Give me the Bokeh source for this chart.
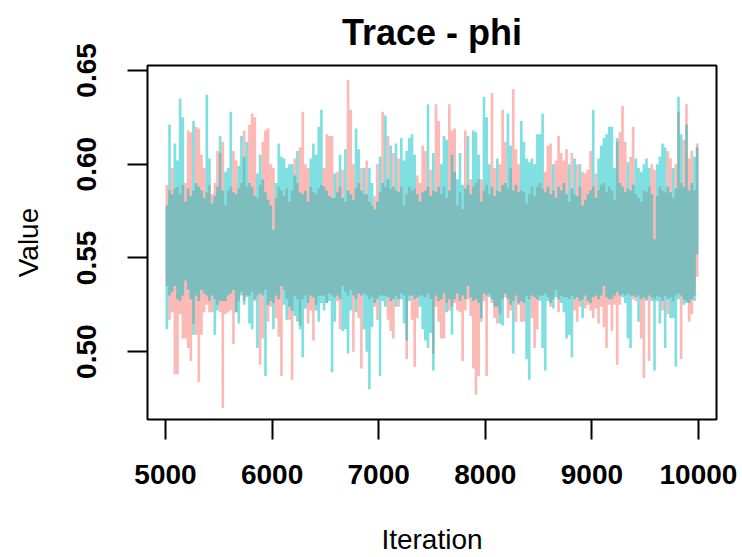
from bokeh.plotting import figure
from bokeh.models import Range1d, FixedTicker, NumeralTickFormatter
from bokeh.embed import file_html
from bokeh.resources import INLINE

# ---- data: per-bin (25 iterations) upper / lower extent of each chain's trace ----
start_iter = 5000
bin_width = 25

chain1_hi = [
    .589, .586, .598, .587, .588, .584, .589, .590, .618, .617, .586, .620, .619, .605, .598, .585,
    .589, .584, .590, .607, .606, .612, .578, .586, .588, .607, .602, .587, .590, .618, .588, .621,
    .627, .625, .582, .589, .612, .618, .619, .600, .598, .582, .588, .586, .583, .587, .580, .586,
    .603, .590, .609, .628, .600, .598, .588, .585, .584, .587, .589, .598, .616, .615, .615, .582,
    .596, .588,
    .597, .580, .645, .629, .600, .587, .590, .598, .584, .602, .580, .578, .583, .600, .585, .628,
    .588, .615, .587, .606, .586, .603, .588, .578, .584, .588, .586, .587, .594, .590, .610, .607,
    .588, .597,
    .586, .632, .623, .584, .588, .582, .632, .618, .619, .578, .585, .576, .618, .589, .592, .588,
    .590, .592, .592, .586, .589, .584, .638, .598, .586, .600, .629, .612, .587, .598, .640, .608,
    .600, .586,
    .585, .579, .584, .588, .583, .588, .590, .587, .596, .610, .611, .586, .602, .615, .606, .602,
    .608, .580, .606, .584, .600, .588, .596, .595, .597, .607, .588, .595, .586, .589, .590, .585,
    .588,
    .586, .581, .612, .617, .631, .612, .587, .604, .620, .584, .582, .580, .586, .585, .588, .600,
    .597, .583, .588, .586, .585, .607, .603, .582, .600, .628, .590, .613, .632, .603, .607, .586,
    .611,
]
chain1_lo = [
    .535, .517, .521, .488, .488, .520, .507, .507, .502, .495, .515, .509, .484, .509, .521, .525,
    .521, .521, .528, .525, .521, .470, .520, .521, .522, .504, .521, .527, .532, .527, .529, .530,
    .532, .527, .530, .493, .507, .533, .516, .524, .526, .518, .508, .487, .533, .528, .517, .485,
    .530, .528, .514, .528, .530, .515, .522, .506, .525, .530, .530, .530, .526, .531, .530, .529,
    .527, .512,
    .535, .532, .530, .533, .500, .528, .518, .491, .531, .530, .528, .529, .524, .517, .530, .530,
    .530, .517, .511, .507, .530, .524, .531, .530, .496, .530, .517, .492, .518, .530, .530, .529,
    .531, .528,
    .499, .524, .516, .507, .507, .526, .522, .524, .526, .522, .521, .495, .522, .528, .519, .491,
    .477, .487, .516, .527, .487, .531, .526, .518, .515, .520, .528, .529, .518, .522, .527, .516,
    .526, .516,
    .516, .530, .528, .518, .502, .512, .530, .530, .531, .529, .524, .528, .533, .521, .530, .529,
    .529, .528, .530, .522, .516, .524, .528, .523, .525, .522, .518, .523, .515, .524, .513, .502,
    .525,
    .511, .525, .493, .525, .531, .530, .531, .530, .528, .527, .530, .507, .486, .528, .495, .529,
    .528, .530, .529, .522, .530, .520, .529, .527, .530, .531, .496, .528, .527, .516, .520, .530,
    .540,
]
chain2_hi = [
    .578, .621, .584, .611, .602, .635, .625, .580, .587, .583, .623, .590, .588, .586, .582, .637,
    .603, .579, .583, .588, .615, .586, .596, .598, .628, .585, .584, .599, .615, .604, .612, .590,
    .588, .583, .595, .605, .592, .585, .581, .578, .565, .590, .611, .604, .603, .598, .600, .600,
    .594, .607, .585, .584, .586, .580, .603, .611, .605, .620, .629, .588, .586, .583, .582, .595,
    .585, .605,
    .582, .608, .586, .584, .581, .619, .608, .586, .598, .584, .598, .590, .576, .580, .604, .590,
    .626, .592, .610, .588, .611, .585, .614, .602, .607, .614, .616, .605, .584, .580, .585, .586,
    .632, .583,
    .606, .585, .588, .600, .615, .613, .586, .605, .596, .592, .606, .589, .587, .615, .584, .618,
    .617, .605, .580, .636, .625, .600, .588, .583, .603, .585, .589, .590, .627, .610, .586, .589,
    .585, .623,
    .612, .603, .601, .603, .600, .616, .616, .627, .585, .588, .584, .600, .582, .588, .586, .590,
    .584, .600, .587, .603, .583, .600, .578, .581, .584, .586, .629, .582, .603, .610, .614, .616,
    .620,
    .620, .598, .614, .590, .588, .585, .601, .586, .589, .603, .598, .596, .600, .603, .598, .584,
    .560, .600, .604, .611, .609, .588, .585, .598, .587, .636, .616, .588, .621, .586, .590, .604,
    .609,
]
chain2_lo = [
    .512, .530, .532, .535, .528, .527, .530, .538, .533, .528, .509, .530, .527, .533, .531, .530,
    .527, .530, .509, .522, .527, .527, .527, .530, .531, .533, .521, .515, .530, .525, .530, .515,
    .512, .528, .502, .531, .530, .487, .525, .527, .512, .530, .528, .535, .525, .517, .524, .522,
    .519, .516, .512, .497, .523, .526, .530, .529, .522, .516, .526, .522, .526, .527, .489, .516,
    .530, .528,
    .511, .512, .499, .522, .530, .521, .531, .530, .512, .500, .480, .513, .526, .528, .487, .527,
    .524, .529, .527, .528, .524, .528, .528, .515, .506, .527, .530, .528, .529, .524, .512, .506,
    .502, .510,
    .490, .530, .527, .528, .531, .521, .528, .509, .528, .531, .527, .530, .528, .535, .529, .527,
    .528, .526, .518, .531, .530, .529, .528, .524, .524, .515, .514, .531, .528, .525, .499, .530,
    .525, .527,
    .526, .496, .485, .530, .529, .528, .527, .502, .490, .527, .526, .523, .529, .528, .526, .521,
    .507, .509, .497, .528, .529, .527, .518, .530, .527, .526, .529, .530, .528, .530, .535, .529,
    .528,
    .528, .530, .532, .530, .529, .526, .507, .502, .530, .529, .516, .528, .529, .527, .530, .527,
    .490, .527, .515, .527, .502, .528, .518, .518, .492, .528, .530, .525, .526, .526, .528, .527,
    .552,
]

chain_colors = ["#F8766D", "#00BFC4"]

x_ticks = [5000, 6000, 7000, 8000, 9000, 10000]
x_tick_labels = ["5000", "6000", "7000", "8000", "9000", "10000"]
y_ticks = [0.50, 0.55, 0.60, 0.65]
y_tick_labels = ["0.50", "0.55", "0.60", "0.65"]

title_text = "Trace - phi"
x_label = "Iteration"
y_label = "Value"


def band_outline(hi, lo):
    n = min(len(hi), len(lo))
    edges = [start_iter + bin_width * i for i in range(n + 1)]
    xs, ys = [], []
    for i in range(n):
        xs += [edges[i], edges[i + 1]]
        ys += [hi[i], hi[i]]
    for i in range(n - 1, -1, -1):
        xs += [edges[i + 1], edges[i]]
        ys += [lo[i], lo[i]]
    return xs, ys


FONT = "Liberation Sans"

p = figure(
    width=742, height=557,
    output_backend="svg", toolbar_location=None,
    x_range=Range1d(4831, 10169), y_range=Range1d(0.4638, 0.6526),
    min_border_left=147, min_border_right=26, min_border_top=65, min_border_bottom=138,
    title=title_text,
)
p.background_fill_color = "white"
p.border_fill_color = "white"
p.grid.visible = False
p.outline_line_color = "black"
p.outline_line_width = 2
p.outline_line_alpha = 1

p.title.align = "center"
p.title.vertical_align = "top"
p.title.text_font = FONT
p.title.text_font_size = "36px"
p.title.text_font_style = "bold"
p.title.text_color = "black"
p.title.standoff = 22

for (hi, lo), col in zip([(chain1_hi, chain1_lo), (chain2_hi, chain2_lo)], chain_colors):
    xs, ys = band_outline(hi, lo)
    p.patch(xs, ys, fill_color=col, fill_alpha=0.5, line_color=None)

xa = p.xaxis[0]
ya = p.yaxis[0]
xa.ticker = FixedTicker(ticks=x_ticks)
xa.major_label_overrides = {t: l for t, l in zip(x_ticks, x_tick_labels)}
ya.ticker = FixedTicker(ticks=y_ticks)
ya.formatter = NumeralTickFormatter(format="0.00")
ya.major_label_overrides = {t: l for t, l in zip(y_ticks, y_tick_labels)}
xa.axis_label = x_label
ya.axis_label = y_label

for ax in (xa, ya):
    ax.axis_line_color = None
    ax.major_tick_out = 20
    ax.major_tick_in = 0
    ax.major_tick_line_width = 2
    ax.major_tick_line_color = "black"
    ax.minor_tick_line_color = None
    ax.major_label_text_font = FONT
    ax.major_label_text_font_size = "28px"
    ax.major_label_text_font_style = "bold"
    ax.major_label_text_color = "black"
    ax.axis_label_text_font = FONT
    ax.axis_label_text_font_size = "28px"
    ax.axis_label_text_font_style = "normal"
    ax.axis_label_text_color = "black"

xa.major_label_standoff = 25
xa.axis_label_standoff = 37
ya.major_label_orientation = "vertical"
ya.major_label_standoff = 32
ya.axis_label_standoff = 30

open("out.html", "w").write(file_html(p, INLINE))
